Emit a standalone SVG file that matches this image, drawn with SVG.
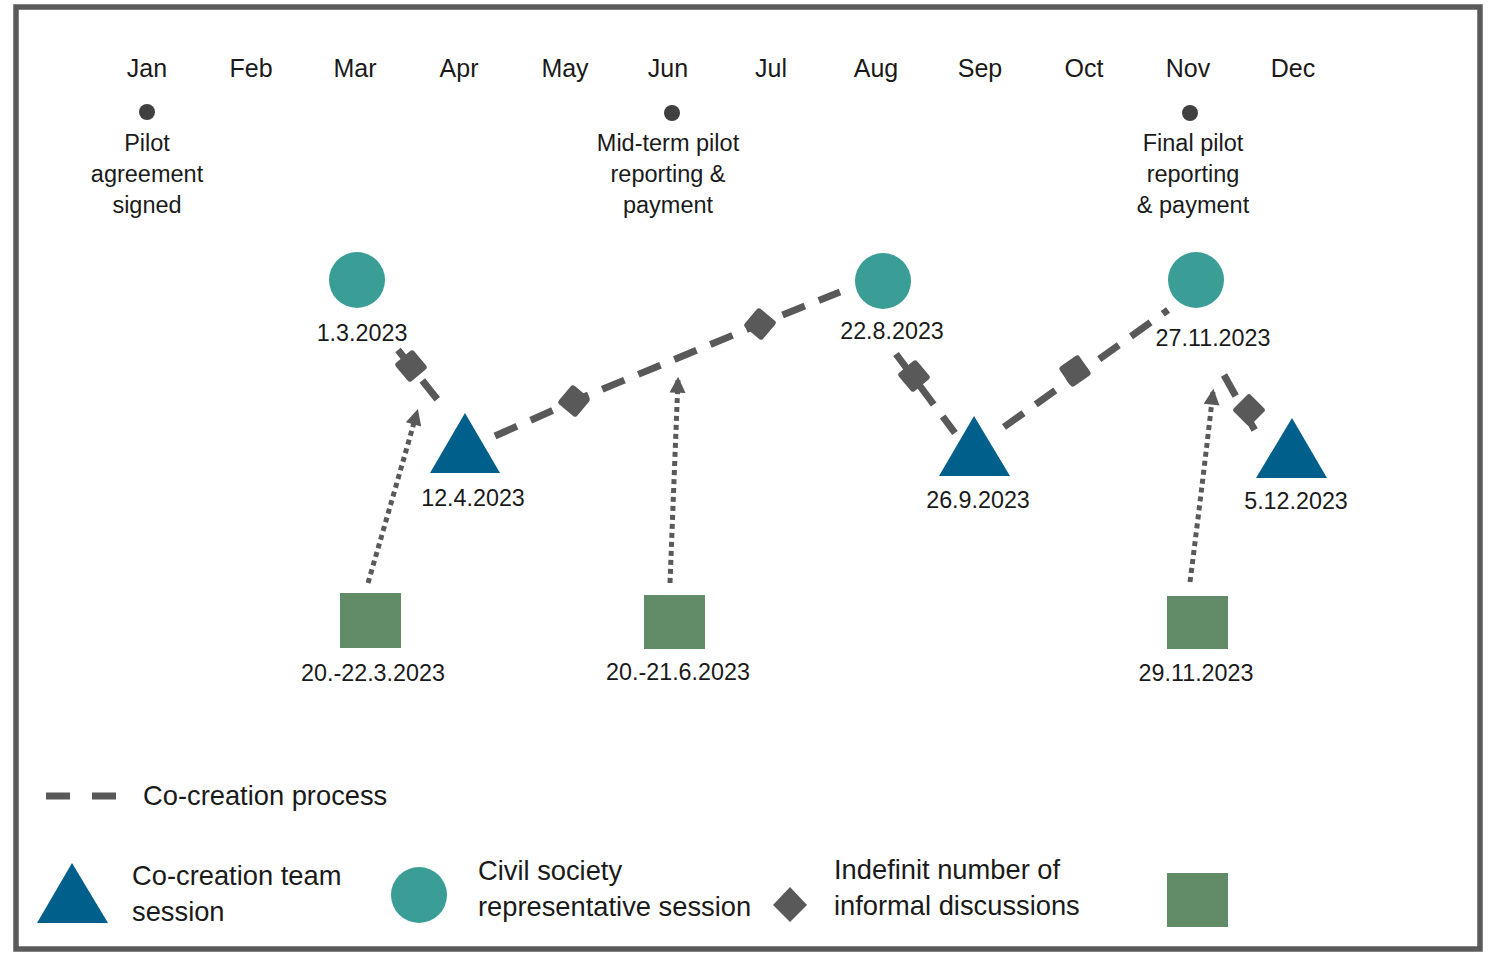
<svg xmlns="http://www.w3.org/2000/svg" width="1488" height="953" viewBox="0 0 1488 953">
<style>
text{font-family:"Liberation Sans",Arial,sans-serif;fill:#1a1a1a}
.m{font-size:25px;text-anchor:middle}
.a{font-size:23.5px;text-anchor:middle}
.d{font-size:23.3px;text-anchor:middle}
.l{font-size:27.3px}
.circ{fill:#3a9e96}
.tri{fill:#00608b}
.sq{fill:#628b67}
.dia{fill:#595959}
.dash{fill:none;stroke:#595959;stroke-width:7;stroke-dasharray:24 15}
.dot{fill:none;stroke:#595959;stroke-width:5;stroke-dasharray:5 4}
.pt{fill:#404040}
</style>
<defs>
<marker id="ah" viewBox="0 0 10 10" refX="8" refY="5" markerWidth="3.6" markerHeight="3.2" orient="auto" markerUnits="strokeWidth">
<path d="M0,0 L10,5 L0,10 z" fill="#595959"/>
</marker>
<rect id="dm" x="-12" y="-12" width="24" height="24" rx="3"/>
</defs>
<rect x="16" y="7" width="1464" height="942" fill="#fff" stroke="#5a5a5a" stroke-width="5.5"/>

<g id="months">
<text class="m" x="147" y="77">Jan</text>
<text class="m" x="251" y="77">Feb</text>
<text class="m" x="355" y="77">Mar</text>
<text class="m" x="459" y="77">Apr</text>
<text class="m" x="565" y="77">May</text>
<text class="m" x="668" y="77">Jun</text>
<text class="m" x="771" y="77">Jul</text>
<text class="m" x="876" y="77">Aug</text>
<text class="m" x="980" y="77">Sep</text>
<text class="m" x="1084" y="77">Oct</text>
<text class="m" x="1188" y="77">Nov</text>
<text class="m" x="1293" y="77">Dec</text>
</g>

<g id="milestone-jan">
<circle class="pt" cx="147" cy="112" r="8"/>
<text class="a" x="147" y="151">Pilot</text>
<text class="a" x="147" y="182">agreement</text>
<text class="a" x="147" y="213">signed</text>
</g>
<g id="milestone-jun">
<circle class="pt" cx="672" cy="113" r="8"/>
<text class="a" x="668" y="151">Mid-term pilot</text>
<text class="a" x="668" y="182">reporting &amp;</text>
<text class="a" x="668" y="213">payment</text>
</g>
<g id="milestone-nov">
<circle class="pt" cx="1190" cy="113" r="8"/>
<text class="a" x="1193" y="151">Final pilot</text>
<text class="a" x="1193" y="182">reporting</text>
<text class="a" x="1193" y="213">&amp; payment</text>
</g>

<g id="connectors">
<line class="dash" x1="398" y1="350" x2="441" y2="404"/>
<polyline class="dash" points="495,436 574,401 760,324 840,292"/>
<line class="dash" x1="896" y1="354" x2="955" y2="433"/>
<line class="dash" x1="1004" y1="427" x2="1168" y2="310"/>
<line class="dash" x1="1224" y1="375" x2="1258" y2="436"/>
<path class="dot" d="M368,583 Q395,490 417,412" marker-end="url(#ah)"/>
<path class="dot" d="M670,583 Q674,480 678,380" marker-end="url(#ah)"/>
<path class="dot" d="M1190,582 Q1203,480 1213,392" marker-end="url(#ah)"/>
<use href="#dm" class="dia" transform="translate(411,366) rotate(50)"/>
<use href="#dm" class="dia" transform="translate(574,401) rotate(40)"/>
<use href="#dm" class="dia" transform="translate(760,324) rotate(40)"/>
<use href="#dm" class="dia" transform="translate(914,376) rotate(50)"/>
<use href="#dm" class="dia" transform="translate(1075,371) rotate(55)"/>
<use href="#dm" class="dia" transform="translate(1249,410) rotate(45)"/>
</g>

<g id="cs-1"><circle class="circ" cx="357" cy="280" r="28"/><text class="d" x="362" y="341">1.3.2023</text></g>
<g id="cs-2"><circle class="circ" cx="883" cy="281" r="28"/><text class="d" x="892" y="339">22.8.2023</text></g>
<g id="cs-3"><circle class="circ" cx="1196" cy="280" r="28"/><text class="d" x="1213" y="346">27.11.2023</text></g>

<g id="ct-1"><polygon class="tri" points="465,413 500,473 430,473"/><text class="d" x="473" y="506">12.4.2023</text></g>
<g id="ct-2"><polygon class="tri" points="974,416 1010,476 939,476"/><text class="d" x="978" y="508">26.9.2023</text></g>
<g id="ct-3"><polygon class="tri" points="1292,418 1327,478 1256,478"/><text class="d" x="1296" y="509">5.12.2023</text></g>

<g id="inf-1"><rect class="sq" x="340" y="593" width="61" height="55"/><text class="d" x="373" y="681">20.-22.3.2023</text></g>
<g id="inf-2"><rect class="sq" x="644" y="595" width="61" height="54"/><text class="d" x="678" y="680">20.-21.6.2023</text></g>
<g id="inf-3"><rect class="sq" x="1167" y="596" width="61" height="53"/><text class="d" x="1196" y="681">29.11.2023</text></g>

<g id="legend">
<line x1="46" y1="796" x2="116" y2="796" stroke="#595959" stroke-width="7" stroke-dasharray="24 22"/>
<text class="l" x="143" y="805">Co-creation process</text>
<polygon class="tri" points="72,863 108,923 37,923"/>
<text class="l" x="132" y="885">Co-creation team</text>
<text class="l" x="132" y="921">session</text>
<ellipse class="circ" cx="419" cy="895" rx="28" ry="28"/>
<text class="l" x="478" y="880">Civil society</text>
<text class="l" x="478" y="916">representative session</text>
<polygon class="dia" points="790,887 807,905 790,922 773,905"/>
<text class="l" x="834" y="879">Indefinit number of</text>
<text class="l" x="834" y="915">informal discussions</text>
<rect class="sq" x="1167" y="873" width="61" height="54"/>
</g>
</svg>
